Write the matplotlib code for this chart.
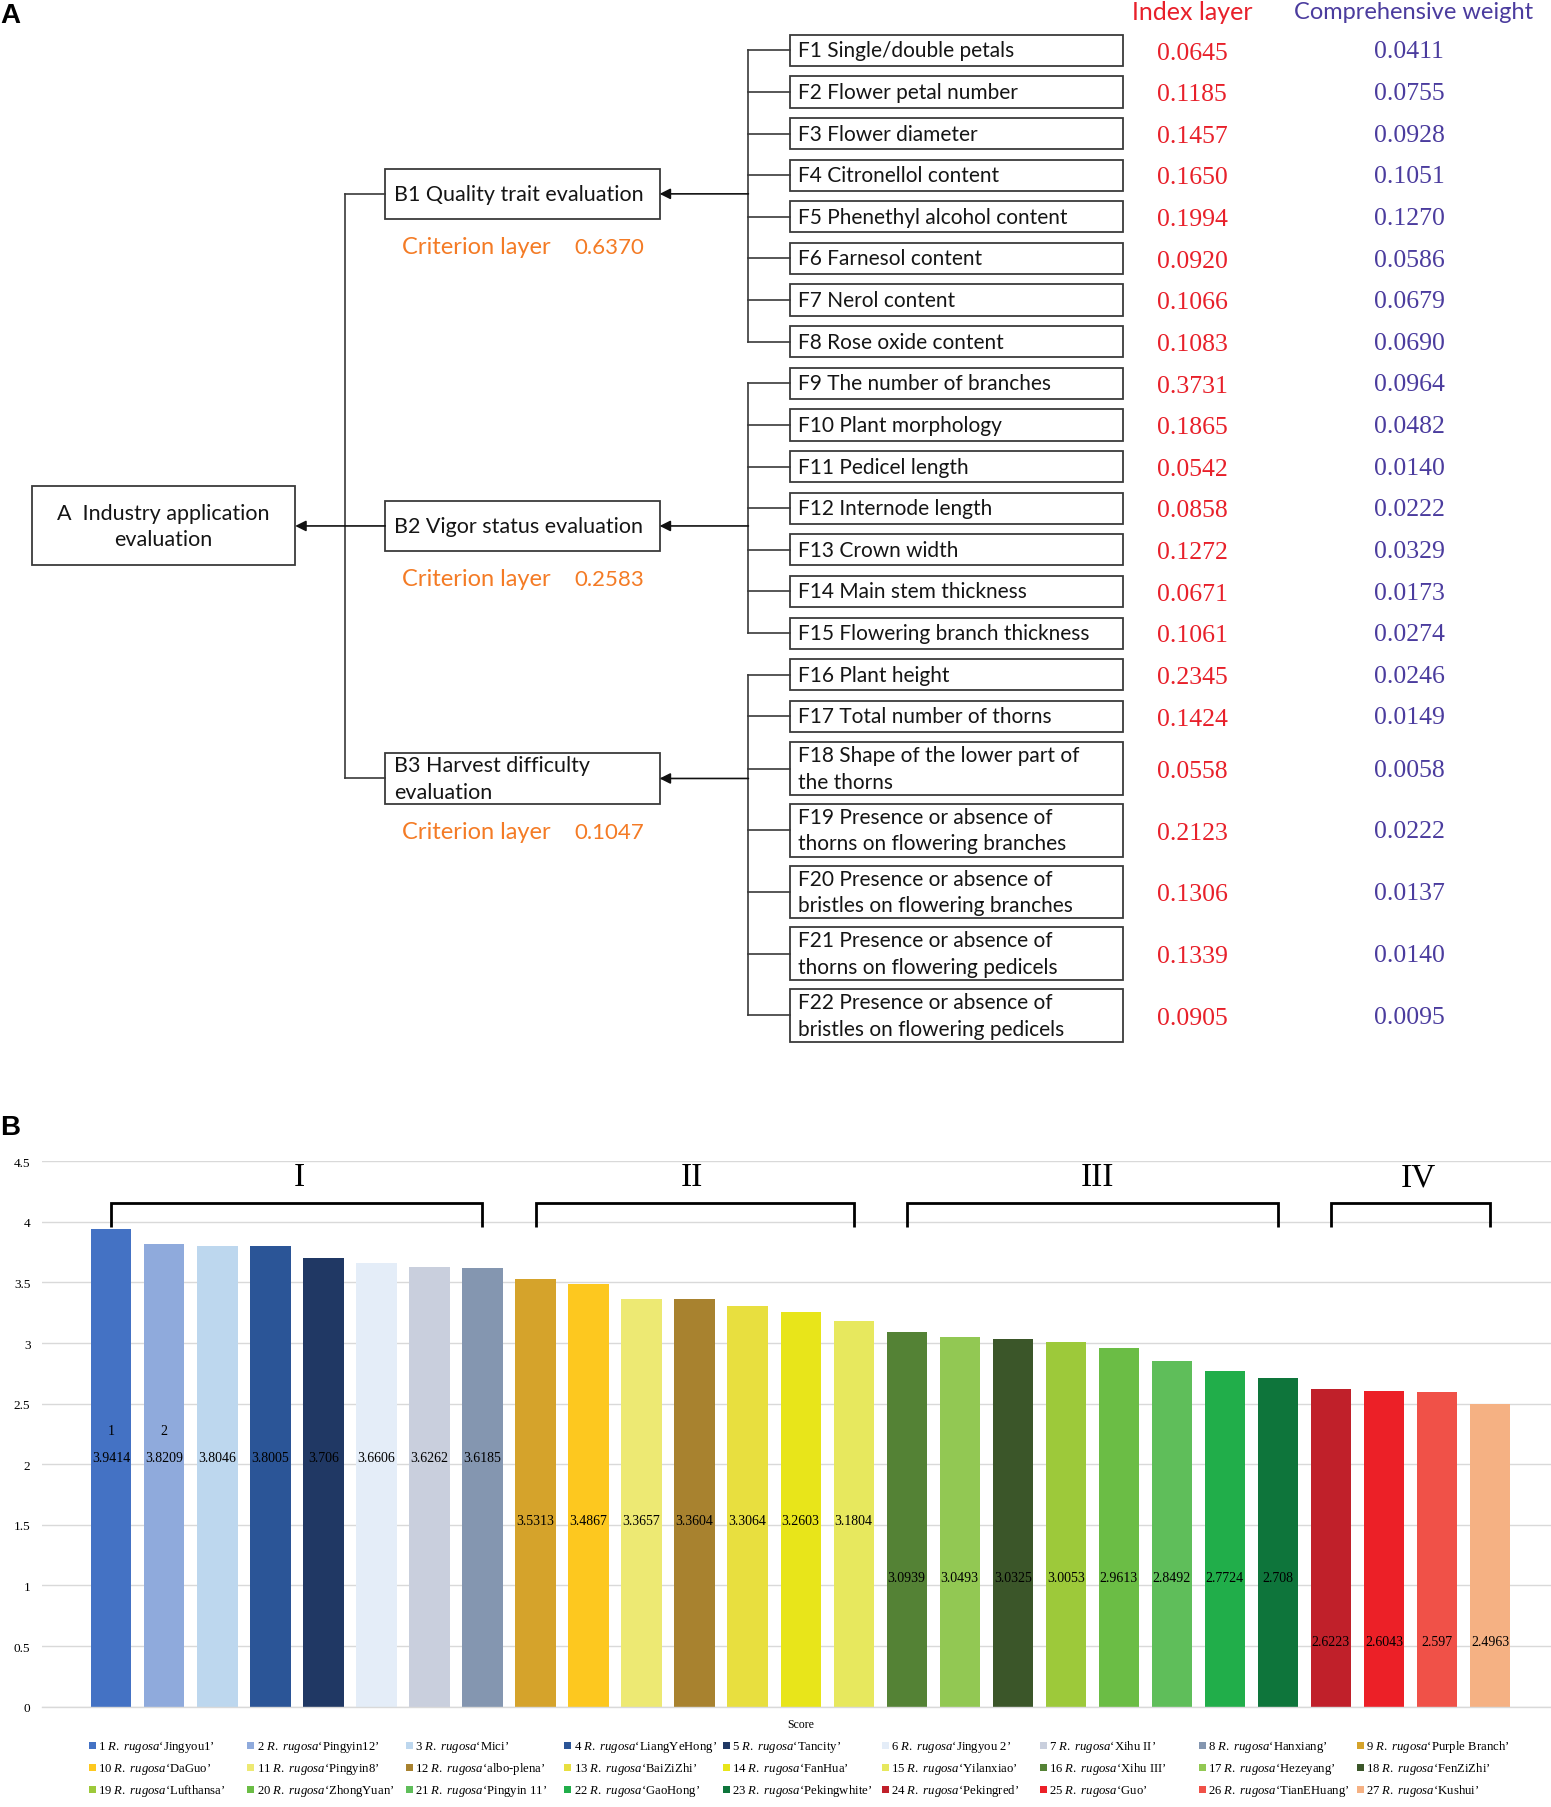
import matplotlib
matplotlib.use('Agg')
import matplotlib.pyplot as plt
from matplotlib.patches import Rectangle

plt.rcParams['mathtext.fontset'] = 'custom'
plt.rcParams['mathtext.it'] = 'Liberation Serif:italic'
plt.rcParams['mathtext.rm'] = 'Liberation Serif'

# ---------------- Data: panel A ----------------
goal_name = 'A  Industry application\nevaluation'
criterion_names = ['B1 Quality trait evaluation', 'B2 Vigor status evaluation',
                   'B3 Harvest difficulty\nevaluation']
criterion_weights = ['0.6370', '0.2583', '0.1047']
index_names = ['F1 Single/double petals', 'F2 Flower petal number', 'F3 Flower diameter',
               'F4 Citronellol content', 'F5 Phenethyl alcohol content', 'F6 Farnesol content',
               'F7 Nerol content', 'F8 Rose oxide content', 'F9 The number of branches',
               'F10 Plant morphology', 'F11 Pedicel length', 'F12 Internode length',
               'F13 Crown width', 'F14 Main stem thickness', 'F15 Flowering branch thickness',
               'F16 Plant height', 'F17 Total number of thorns',
               'F18 Shape of the lower part of\nthe thorns',
               'F19 Presence or absence of\nthorns on flowering branches',
               'F20 Presence or absence of\nbristles on flowering branches',
               'F21 Presence or absence of\nthorns on flowering pedicels',
               'F22 Presence or absence of\nbristles on flowering pedicels']
index_group = [0] * 8 + [1] * 7 + [2] * 7
index_weights = ['0.0645', '0.1185', '0.1457', '0.1650', '0.1994', '0.0920', '0.1066', '0.1083',
                 '0.3731', '0.1865', '0.0542', '0.0858', '0.1272', '0.0671', '0.1061',
                 '0.2345', '0.1424', '0.0558', '0.2123', '0.1306', '0.1339', '0.0905']
comp_weights = ['0.0411', '0.0755', '0.0928', '0.1051', '0.1270', '0.0586', '0.0679', '0.0690',
                '0.0964', '0.0482', '0.0140', '0.0222', '0.0329', '0.0173', '0.0274',
                '0.0246', '0.0149', '0.0058', '0.0222', '0.0137', '0.0140', '0.0095']

# ---------------- Data: panel B ----------------
cultivars = ['Jingyou1', 'Pingyin12', 'Mici', 'LiangYeHong', 'Tancity', 'Jingyou 2', 'Xihu II',
             'Hanxiang', 'Purple Branch', 'DaGuo', 'Pingyin8', 'albo-plena', 'BaiZiZhi', 'FanHua',
             'Yilanxiao', 'Xihu III', 'Hezeyang', 'FenZiZhi', 'Lufthansa', 'ZhongYuan',
             'Pingyin 11', 'GaoHong', 'Pekingwhite', 'Pekingred', 'Guo', 'TianEHuang', 'Kushui']
scores = [3.9414, 3.8209, 3.8046, 3.8005, 3.706, 3.6606, 3.6262, 3.6185,
          3.5313, 3.4867, 3.3657, 3.3604, 3.3064, 3.2603, 3.1804,
          3.0939, 3.0493, 3.0325, 3.0053, 2.9613, 2.8492, 2.7724, 2.708,
          2.6223, 2.6043, 2.597, 2.4963]
bar_colors = ['#4472C4', '#8FAADC', '#BDD7EE', '#2B5597', '#203864', '#E4EDF8', '#C9CFDD', '#8496B0',
              '#D5A32B', '#FDC81F', '#EDE973', '#A8822F', '#E8DF3F', '#E8E51A', '#E7E85E',
              '#548235', '#92C853', '#3B5629', '#9DC93A', '#6BBD45', '#5FBE5A', '#21AE4A', '#0E753B',
              '#C0202A', '#EC2027', '#F05148', '#F5B183']
cluster = [0] * 8 + [1] * 7 + [2] * 8 + [3] * 4
cluster_labels = ['I', 'II', 'III', 'IV']

# ---------------- Styles ----------------
SANS = 'Lato'
SERIF = 'Liberation Serif'
RED = '#E8202A'
PURPLE = '#4B3C9E'
ORANGE = '#F47B25'
LINE = '#3a3a3a'
TXT = '#151515'

W, H = 1345, 1568
fig = plt.figure(figsize=(15.51, 18.08), dpi=100)
fig.patch.set_facecolor('white')
ax0 = fig.add_axes([0, 0, 1, 1])
ax0.set_xlim(0, W)
ax0.set_ylim(H, 0)
ax0.axis('off')

# panel labels
ax0.text(0, 14, 'A', fontsize=20, fontweight='bold', family='Liberation Sans', va='center', ha='left')
ax0.text(0, 978, 'B', fontsize=20, fontweight='bold', family='Liberation Sans', va='center', ha='left')

# headers
ax0.text(1034, 11, 'Index layer', color=RED, fontsize=18, family=SANS, ha='center', va='center')
ax0.text(1226, 11, 'Comprehensive weight', color=PURPLE, fontsize=17, family=SANS, ha='center', va='center')

# index boxes
fx0, fx1 = 685, 974
y = 31
centers = []
for name, iw, cw in zip(index_names, index_weights, comp_weights):
    nl = name.count('\n') + 1
    h = 27 if nl == 1 else 45.5
    ax0.add_patch(Rectangle((fx0, y), fx1 - fx0, h, fill=False, ec=LINE, lw=1.3))
    yc = y + h / 2
    centers.append(yc)
    ax0.text(fx0 + 7, yc, name, fontsize=15, family=SANS, color=TXT, ha='left', va='center',
             linespacing=1.4)
    ax0.text(1034, yc + 2, iw, fontsize=18.5, family=SERIF, color=RED, ha='center', va='center')
    ax0.text(1222, yc + 1, cw, fontsize=18.5, family=SERIF, color=PURPLE, ha='center', va='center')
    y += h + (9.1 if nl == 1 else 8)

# criterion boxes
b_centers = [169, 457, 676]
bx0, bx1 = 334, 572
for g, (nm, wt, yc) in enumerate(zip(criterion_names, criterion_weights, b_centers)):
    h = 44 if '\n' not in nm else 45
    ax0.add_patch(Rectangle((bx0, yc - h / 2), bx1 - bx0, h, fill=False, ec=LINE, lw=1.3))
    ax0.text(bx0 + 8, yc, nm, fontsize=15.5, family=SANS, color=TXT, ha='left', va='center',
             linespacing=1.4)
    ax0.text(349, yc + 46, 'Criterion layer', fontsize=17, family=SANS, color=ORANGE, ha='left', va='center')
    ax0.text(498, yc + 46, wt, fontsize=16, family=SANS, color=ORANGE, ha='left', va='center')
    cs = [c for c, gg in zip(centers, index_group) if gg == g]
    ax0.plot([649, 649], [min(cs), max(cs)], color=LINE, lw=1.2)
    for c in cs:
        ax0.plot([649, fx0], [c, c], color=LINE, lw=1.2)
    ax0.annotate('', xy=(bx1, yc), xytext=(649, yc),
                 arrowprops=dict(arrowstyle='-|>', color='#111111', lw=1.2, mutation_scale=16,
                                 shrinkA=0, shrinkB=0))

# goal box
ax0.add_patch(Rectangle((28, 422), 256 - 28, 69, fill=False, ec=LINE, lw=1.3))
ax0.text(142, 457, goal_name, fontsize=15.5, family=SANS, color=TXT, ha='center', va='center',
         multialignment='center', linespacing=1.35)
ax0.plot([299, 299], [b_centers[0], b_centers[2]], color=LINE, lw=1.2)
ax0.plot([299, bx0], [b_centers[0], b_centers[0]], color=LINE, lw=1.2)
ax0.plot([299, bx0], [b_centers[2], b_centers[2]], color=LINE, lw=1.2)
ax0.annotate('', xy=(256, b_centers[1]), xytext=(bx0, b_centers[1]),
             arrowprops=dict(arrowstyle='-|>', color='#111111', lw=1.2, mutation_scale=16,
                             shrinkA=0, shrinkB=0))

# ---------------- Panel B ----------------
axb = fig.add_axes([36 / W, 1 - 1481 / H, (W - 36) / W, (1481 - 1008) / H])
xs = list(range(len(scores)))
axb.bar(xs, scores, width=0.76, color=bar_colors, zorder=2)
axb.set_xlim(-1.316, 27.15)
axb.set_ylim(0, 4.5)
yt = [i * 0.5 for i in range(10)]
axb.set_yticks(yt)
axb.set_yticklabels(['%g' % v for v in yt], fontsize=9.5, family=SERIF)
axb.tick_params(axis='y', length=0, pad=8)
axb.set_xticks([])
axb.grid(axis='y', color='#D9D9D9', lw=1.0, zorder=0)
for s in ['top', 'right', 'left']:
    axb.spines[s].set_visible(False)
axb.spines['bottom'].set_color('#D9D9D9')
axb.spines['bottom'].set_linewidth(1.0)

label_y = [2.06, 1.54, 1.07, 0.54]
for i, (v, g) in enumerate(zip(scores, cluster)):
    axb.text(i, label_y[g], '%g' % v, fontsize=10, family=SERIF, ha='center', va='center', zorder=3)
for i in range(2):
    axb.text(i, 2.28, str(i + 1), fontsize=10, family=SERIF, ha='center', va='center', zorder=3)

label_shift = [0.05, -0.05, 0.1, 0.15]
for g, lab in enumerate(cluster_labels):
    mem = [i for i, c in enumerate(cluster) if c == g]
    a, b = min(mem), max(mem)
    axb.plot([a, a, b, b], [3.958, 4.158, 4.158, 3.958], color='black', lw=2.0,
             solid_joinstyle='miter', solid_capstyle='butt', zorder=3, clip_on=False)
    axb.text((a + b) / 2 + label_shift[g], 4.37, lab, fontsize=24, family=SERIF, ha='center', va='center')

ax0.text(694, 1496, 'Score', fontsize=8.5, family=SERIF, ha='center', va='center')

# legend (Excel-like grid, row-major order)
row_y = [1515, 1534, 1553]
for k, (nm, col) in enumerate(zip(cultivars, bar_colors)):
    r, c = divmod(k, 9)
    lx = 80 + 137.5 * c
    ly = row_y[r]
    ax0.add_patch(Rectangle((lx - 3, ly - 3), 6, 6, color=col, lw=0))
    ax0.text(lx + 5, ly, '%d $\\mathit{R.\\ rugosa}$\u2018%s\u2019' % (k + 1, nm),
             fontsize=9.2, family=SERIF, ha='left', va='center')

fig.savefig('out.png', dpi=100, facecolor='white')
